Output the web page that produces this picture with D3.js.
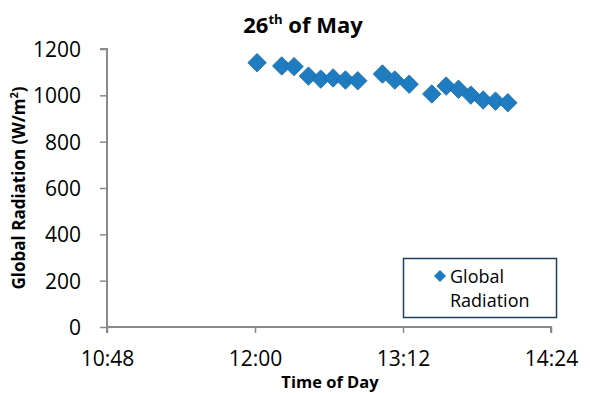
<!DOCTYPE html>
<html>
<head>
<meta charset="utf-8">
<script src="https://cdn.jsdelivr.net/npm/d3@7"></script>
<style>
  html, body { margin: 0; padding: 0; background: #fff; }
  svg { display: block; font-family: "Open Sans", "Noto Sans", sans-serif; }
</style>
</head>
<body>
<svg id="chart" width="590" height="393"></svg>
<script>
// Measurement times (HH:MM) and global radiation readings (W/m²)
const times = ["12:01", "12:13", "12:19", "12:26", "12:32", "12:38", "12:44", "12:50",
               "13:02", "13:08", "13:15", "13:26", "13:33", "13:39", "13:45", "13:51",
               "13:57", "14:03"];
const radiation = [1141, 1127, 1124, 1083, 1070, 1075, 1066, 1063,
                   1092, 1066, 1048, 1006, 1040, 1026, 1001, 980,
                   975, 968];
const xTickLabels = ["10:48", "12:00", "13:12", "14:24"];
const yTicks = [0, 200, 400, 600, 800, 1000, 1200];

const toMin = s => { const [h, m] = s.split(":").map(Number); return h * 60 + m; };

const svg = d3.select("#chart");
const plot = { left: 107, right: 551, top: 49, bottom: 327 };

const x = d3.scaleLinear()
  .domain([toMin(xTickLabels[0]), toMin(xTickLabels[xTickLabels.length - 1])])
  .range([plot.left, plot.right]);
const y = d3.scaleLinear().domain([0, 1200]).range([plot.bottom, plot.top]);

const axisColor = "#898989";

// Y axis
const yAxis = svg.append("g")
  .attr("transform", `translate(${plot.left},0)`)
  .call(d3.axisLeft(y).tickValues(yTicks).tickSize(7).tickFormat(d3.format("d")));
// X axis
const xAxis = svg.append("g")
  .attr("transform", `translate(0,${plot.bottom})`)
  .call(d3.axisBottom(x).tickValues(xTickLabels.map(toMin)).tickSize(6)
    .tickFormat((d, i) => xTickLabels[i]));

[yAxis, xAxis].forEach(g => {
  g.select(".domain").attr("stroke", axisColor).attr("stroke-width", 2);
  g.selectAll(".tick line").attr("stroke", axisColor).attr("stroke-width", 1.5);
  g.selectAll(".tick text").attr("fill", "#000").attr("font-size", 21)
    .attr("font-family", "Open Sans, sans-serif");
});
yAxis.selectAll(".tick text").attr("x", -26).attr("dy", "0.36em");
xAxis.selectAll(".tick text").attr("y", 39).attr("dy", 0);
yAxis.select(".domain").attr("d", `M-7,${plot.top}H0V${plot.bottom}`);
xAxis.select(".domain").attr("d", `M${plot.left},6V0H${plot.right}V6`);

// Diamond markers
const diamond = d3.symbol().type(d3.symbolSquare).size(170);
svg.append("g").selectAll("path")
  .data(times.map((t, i) => ({ t: toMin(t), v: radiation[i] })))
  .join("path")
  .attr("d", diamond)
  .attr("transform", d => `translate(${x(d.t)},${y(d.v)}) rotate(45)`)
  .attr("fill", "#1f7cc1")
  .attr("stroke", "#1a6aa6")
  .attr("stroke-width", 0.8);

// Title
const title = svg.append("text")
  .attr("x", 303).attr("y", 33)
  .attr("text-anchor", "middle")
  .attr("font-weight", "bold").attr("font-size", 22);
title.append("tspan").text("26");
title.append("tspan").attr("font-size", 13).attr("dy", -9).text("th");
title.append("tspan").attr("dy", 9).text(" of May");

// Axis titles
const yTitle = svg.append("text")
  .attr("transform", "translate(25,188) rotate(-90)")
  .attr("text-anchor", "middle")
  .attr("font-weight", "bold").attr("font-size", 17);
yTitle.append("tspan").text("Global Radiation (W/m");
yTitle.append("tspan").attr("font-size", 11).attr("dy", -7).text("2");
yTitle.append("tspan").attr("dy", 7).text(")");

svg.append("text")
  .attr("x", 330).attr("y", 388)
  .attr("text-anchor", "middle")
  .attr("font-weight", "bold").attr("font-size", 16.5)
  .text("Time of Day");

// Legend
const legend = svg.append("g");
legend.append("rect")
  .attr("x", 403.5).attr("y", 258.5).attr("width", 153).attr("height", 59)
  .attr("fill", "#fff").attr("stroke", "#1f3e5e").attr("stroke-width", 1.5);
legend.append("path")
  .attr("d", d3.symbol().type(d3.symbolSquare).size(72))
  .attr("transform", "translate(440,276) rotate(45)")
  .attr("fill", "#1f7cc1");
legend.append("text").attr("x", 450).attr("y", 283).attr("font-size", 18).text("Global");
legend.append("text").attr("x", 450).attr("y", 307).attr("font-size", 18).text("Radiation");
</script>
</body>
</html>
